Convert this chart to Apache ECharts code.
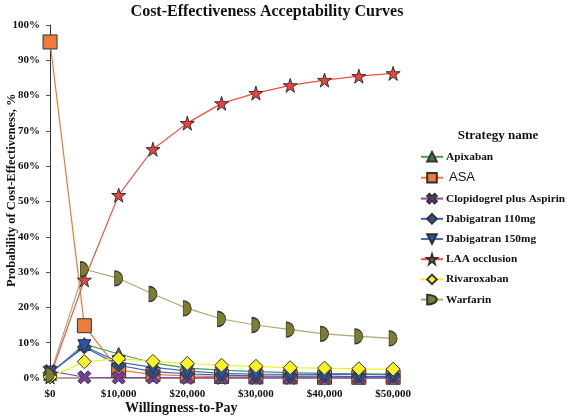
<!DOCTYPE html>
<html><head><meta charset="utf-8">
<script src="https://cdn.jsdelivr.net/npm/echarts@6/dist/echarts.min.js"></script>
<style>html,body{margin:0;padding:0;background:#fff}#c{width:567px;height:418px}</style>
</head><body><div id="c"></div>
<script>
const wtp = [0, 5000, 10000, 15000, 20000, 25000, 30000, 35000, 40000, 45000, 50000];
const xTicks = [0, 10000, 20000, 30000, 40000, 50000];
const yTicks = [0, 10, 20, 30, 40, 50, 60, 70, 80, 90, 100];
const seriesNames = ['Apixaban', 'ASA', 'Clopidogrel plus Aspirin', 'Dabigatran 110mg', 'Dabigatran 150mg', 'LAA occlusion', 'Rivaroxaban', 'Warfarin'];
const apixaban    = [1.2, 9.6, 6.8, 4.3, 2.8, 2.2, 1.8, 1.5, 1.3, 1.2, 1.1];
const asa         = [95.2, 14.8, 2.2, 1.0, 0.6, 0.4, 0.3, 0.3, 0.2, 0.2, 0.2];
const clopidogrel = [2.0, 0.2, 0.1, 0.1, 0.0, 0.0, 0.0, 0.0, 0.0, 0.0, 0.0];
const dabi110     = [1.5, 8.8, 3.6, 1.8, 1.2, 0.8, 0.6, 0.5, 0.5, 0.4, 0.4];
const dabi150     = [1.5, 9.0, 4.5, 3.0, 2.0, 1.3, 1.1, 1.0, 1.0, 1.0, 0.9];
const laa         = [0.3, 27.8, 51.8, 64.8, 72.2, 77.8, 80.7, 82.9, 84.4, 85.5, 86.3];
const rivaroxaban = [0.3, 4.6, 5.5, 4.7, 4.1, 3.6, 3.3, 2.9, 2.8, 2.6, 2.5];
const warfarin    = [0.8, 30.8, 28.2, 23.8, 19.7, 16.7, 15.0, 13.7, 12.5, 11.8, 11.2];

const values = [apixaban, asa, clopidogrel, dabi110, dabi150, laa, rivaroxaban, warfarin];
const styles = [
  {line:'#4c9a5c', fill:'#3d7d45', symbol:'triangle', size:13},
  {line:'#f07838', fill:'#ee7b39', symbol:'rect', size:14},
  {line:'#8a46a8', fill:'#7c3a9c', symbol:'path://M22,0 L50,28 L78,0 L100,22 L72,50 L100,78 L78,100 L50,72 L22,100 L0,78 L28,50 L0,22 Z', size:13},
  {line:'#3c62b2', fill:'#2d4f92', symbol:'diamond', size:14},
  {line:'#4a6cc0', fill:'#2c52aa', symbol:'triangle', size:13, rotate:180},
  {line:'#f25040', fill:'#e8443a', symbol:'path://M50,0 L61,35 L98,35 L68,57 L79,91 L50,70 L21,91 L32,57 L2,35 L39,35 Z', size:14},
  {line:'#eeee22', fill:'#f8f224', symbol:'diamond', size:14},
  {line:'#a9a878', fill:'#7e7d2f', symbol:'path://M0,0 L0,100 A50,50 0 0 0 0,0 Z', size:[8,15]}
];
const serif = '"Liberation Serif","Times New Roman",serif';

const series = seriesNames.map((n, i) => ({
  name: n,
  type: 'line',
  data: wtp.map((x, j) => [x, values[i][j]]),
  symbol: styles[i].symbol,
  symbolSize: styles[i].size,
  symbolRotate: styles[i].rotate || 0,
  symbolKeepAspect: false,
  showAllSymbol: true,
  lineStyle: {color: styles[i].line, width: 1.2},
  itemStyle: {color: styles[i].fill, borderColor: '#333', borderWidth: 1},
  emphasis: {disabled: true},
  animation: false
}));

const chart = echarts.init(document.getElementById('c'), null, {renderer: 'canvas'});
chart.setOption({
  backgroundColor: '#fff',
  animation: false,
  title: [
    {text: 'Cost-Effectiveness Acceptability Curves', left: 262, top: -1, textAlign: 'center',
     textStyle: {fontFamily: serif, fontWeight: 'bold', fontSize: 16, color: '#111'}},
    {text: 'Strategy name', left: 493, top: 124, textAlign: 'center',
     textStyle: {fontFamily: serif, fontWeight: 'bold', fontSize: 13, color: '#111'}}
  ],
  grid: {left: 48, right: 167, top: 25, bottom: 36.5, containLabel: false},
  legend: {
    orient: 'vertical', left: 420, top: 151, padding: 0, itemWidth: 22, itemHeight: 12, itemGap: 8.6,
    data: seriesNames,
    formatter: n => n === 'ASA' ? '{sans|ASA}' : n,
    textStyle: {fontFamily: serif, fontWeight: 'bold', fontSize: 11.3, color: '#111', padding: [0,0,0,-2],
      rich: {sans: {fontFamily: '"Liberation Sans", Arial, sans-serif', fontSize: 13, fontWeight: 'normal', color: '#111', padding: [0,0,0,3]}}}
  },
  xAxis: {
    type: 'value', min: -300, max: 51000,
    axisLine: {show: true, lineStyle: {color: '#8a8a8a', width: 1.5}},
    axisTick: {show: false},
    splitLine: {show: false},
    axisLabel: {customValues: xTicks, formatter: v => '$' + v.toLocaleString('en-US'),
      fontFamily: serif, fontWeight: 'bold', fontSize: 11, color: '#111', margin: 7}
  },
  yAxis: {
    type: 'value', min: -1, max: 100,
    axisLine: {show: true, lineStyle: {color: '#333', width: 1}},
    axisTick: {show: true, customValues: yTicks, length: 4, lineStyle: {color: '#555'}},
    splitLine: {show: false},
    axisLabel: {customValues: yTicks, formatter: v => v + '%',
      fontFamily: serif, fontWeight: 'bold', fontSize: 11, color: '#111', margin: 8}
  },
  graphic: [
    {type: 'text', left: 125, top: 401, style: {text: 'Willingness-to-Pay', font: 'bold 14px ' + serif, fill: '#111'}},
    {type: 'text', x: 5, y: 287, rotation: Math.PI/2, style: {text: 'Probability of Cost-Effectiveness, %', font: 'bold 12.5px ' + serif, fill: '#111', textVerticalAlign: 'top'}}
  ],
  series: series
});
</script></body></html>
